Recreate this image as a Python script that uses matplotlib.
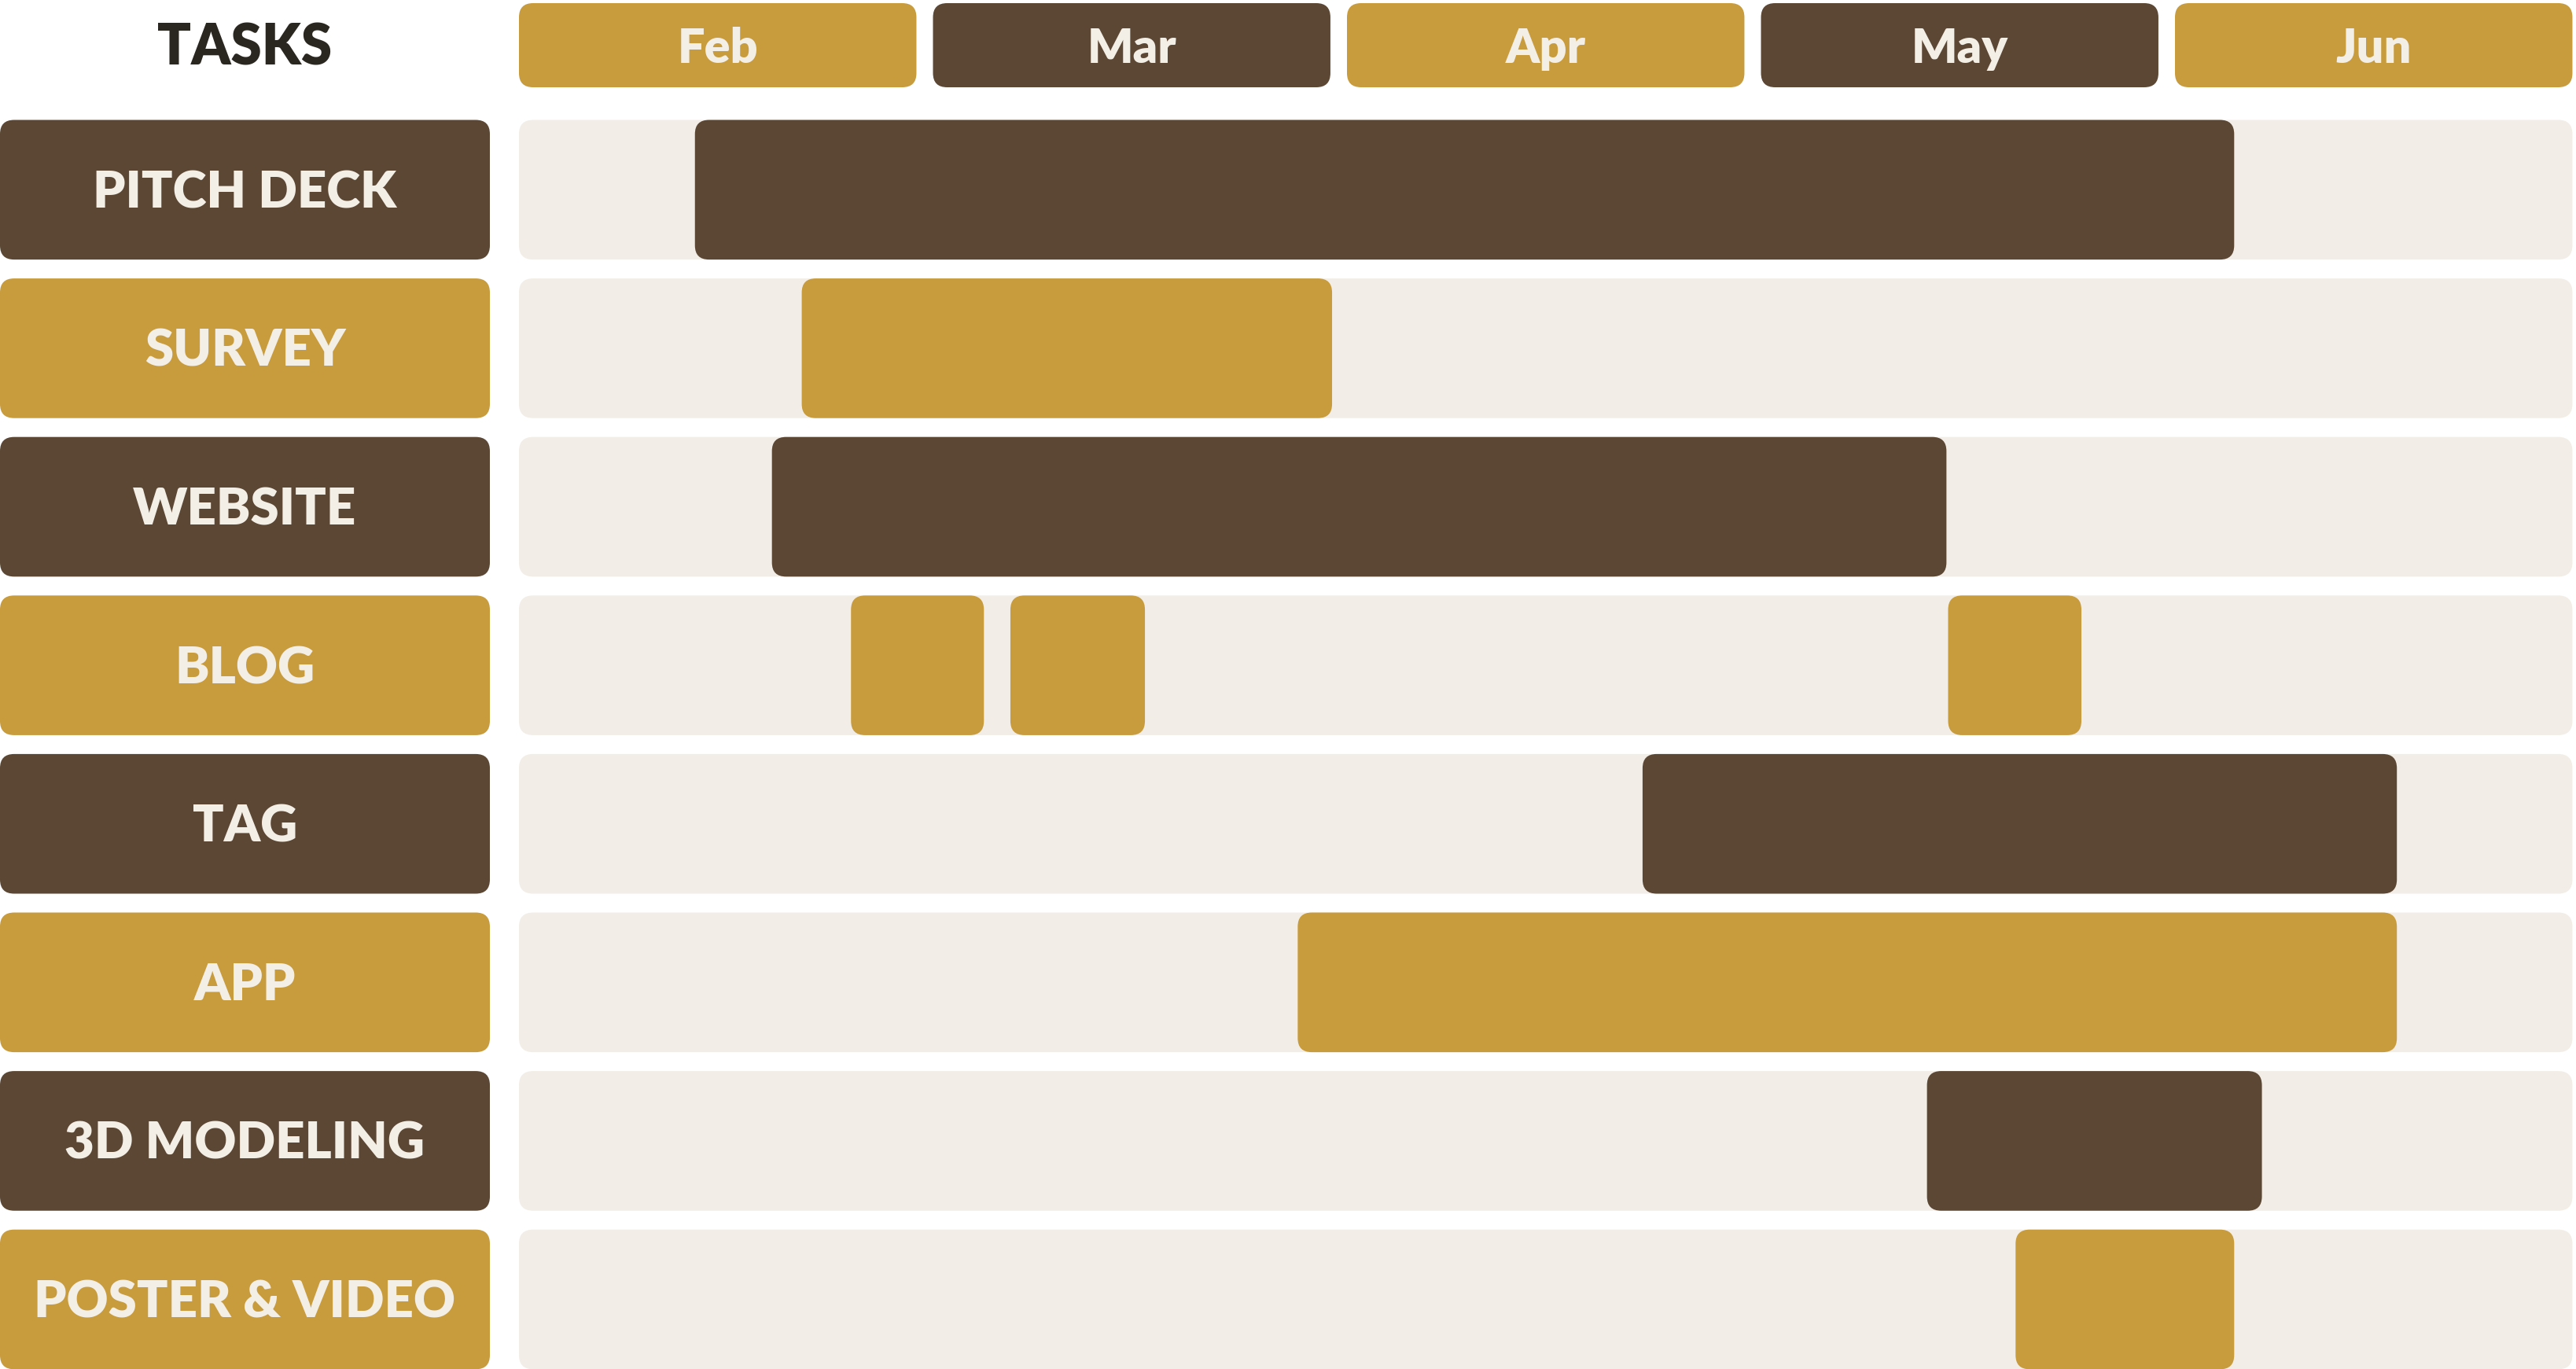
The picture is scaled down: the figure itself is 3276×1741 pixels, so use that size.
import matplotlib
matplotlib.use("Agg")
import matplotlib.pyplot as plt
from matplotlib.patches import FancyBboxPatch

# ---------------- data ----------------
tasks = ["PITCH DECK", "SURVEY", "WEBSITE", "BLOG", "TAG", "APP",
         "3D MODELING", "POSTER & VIDEO"]
months = ["Feb", "Mar", "Apr", "May", "Jun"]
# bar segments, in months elapsed since the start of Feb
seg_starts = [[0.425], [0.683], [0.611], [0.802, 1.187, 3.452], [2.714],
              [1.881], [3.401], [3.615]]
seg_ends = [[4.143], [1.964], [3.448], [1.123, 1.512, 3.774], [4.536],
            [4.536], [4.210], [4.143]]

# ---------------- style ----------------
DARK = "#5B4733"
GOLD = "#C89B3C"
LIGHT = "#F2EDE6"
CREAM = "#F3EEE6"
INK = "#2A2620"
FONT = ["Lato", "DejaVu Sans"]

W, H = 3276, 1741
month_px = 526.5       # horizontal pixels per month
x0_px = 660.0          # pixel position of start of Feb
row_px = 201.6         # vertical pixels per row
y0_px = 152.5          # pixel position of top of first row

fig = plt.figure(figsize=(W / 100, H / 100), dpi=100)
fig.patch.set_facecolor("white")
ax = fig.add_axes([0, 0, 1, 1])
ax.set_xlim(-x0_px / month_px, (W - x0_px) / month_px)
ax.set_ylim((H - y0_px) / row_px, -y0_px / row_px)
ax.axis("off")

aspect = month_px / row_px
RS = 18 / month_px  # rounding in x units


def rbox(x, y, w, h, color, z=1):
    p = FancyBboxPatch((x, y), w, h,
                       boxstyle=f"round,pad=0,rounding_size={RS}",
                       mutation_aspect=aspect, facecolor=color,
                       edgecolor="none", zorder=z)
    ax.add_patch(p)


month_w = 0.96
row_h = 0.881
n_m = len(months)
full_w = n_m - (1 - month_w)
label_left = -x0_px / month_px
label_right = (623 - x0_px) / month_px
label_cx = (label_left + label_right) / 2
dy = 0.022  # small downward nudge for visual centring of caps

# header
hdr_top = (4 - y0_px) / row_px
hdr_bot = (111 - y0_px) / row_px
ax.text(label_cx, (hdr_top + hdr_bot) / 2 + dy, "TASKS", ha="center",
        va="center", fontsize=51, fontweight="heavy", color=INK, family=FONT)
for m, name in enumerate(months):
    c = GOLD if m % 2 == 0 else DARK
    rbox(m, hdr_top, month_w, hdr_bot - hdr_top, c)
    ax.text(m + month_w / 2, (hdr_top + hdr_bot) / 2 + dy, name, ha="center",
            va="center", fontsize=44, fontweight="heavy", color=CREAM,
            family=FONT)

# rows
for i, task in enumerate(tasks):
    c = DARK if i % 2 == 0 else GOLD
    rbox(label_left, i, label_right - label_left, row_h, c)
    ax.text(label_cx, i + row_h / 2 + dy, task, ha="center", va="center",
            fontsize=47, fontweight="heavy", color=CREAM, family=FONT)
    rbox(0, i, full_w, row_h, LIGHT, z=1)
    for s, e in zip(seg_starts[i], seg_ends[i]):
        rbox(s, i, e - s, row_h, c, z=2)

fig.savefig("out.png", dpi=100, facecolor="white")
